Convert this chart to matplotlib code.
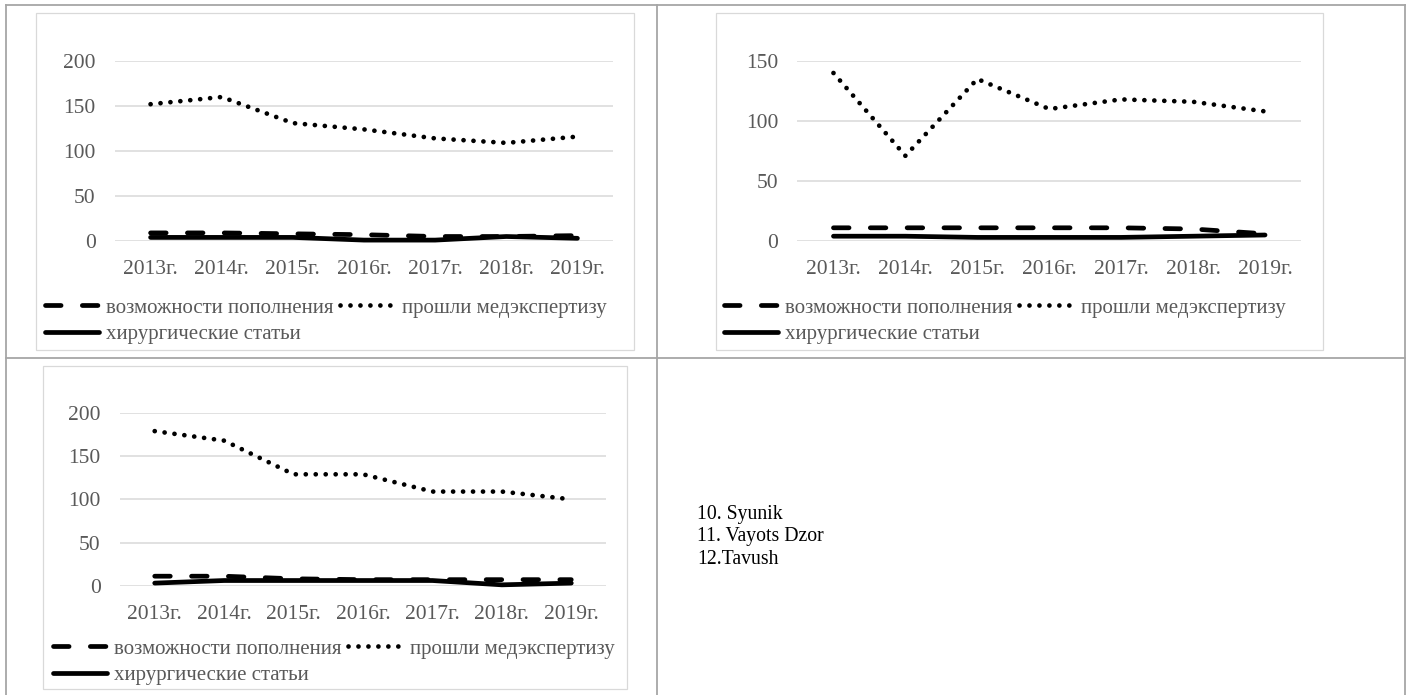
import matplotlib
matplotlib.use("Agg")
import matplotlib.pyplot as plt
from matplotlib.lines import Line2D
from matplotlib.patches import Rectangle

W, H = 1413, 695
DPI = 100

years = ["2013г.", "2014г.", "2015г.", "2016г.", "2017г.", "2018г.", "2019г."]
series_names = ["возможности пополнения", "прошли медэкспертизу", "хирургические статьи"]

# Chart 1
c1_vozm = [9, 9, 8, 7, 5, 5, 6]
c1_med = [152, 160, 131, 124, 114, 109, 116]
c1_hir = [4, 4, 4, 1, 1, 5, 3]
# Chart 2
c2_vozm = [11, 11, 11, 11, 11, 10, 6]
c2_med = [140, 71, 135, 110, 118, 116, 108]
c2_hir = [4, 4, 3, 3, 3, 4, 5]
# Chart 3
c3_vozm = [11, 11, 8, 7, 7, 7, 7]
c3_med = [179, 168, 129, 129, 109, 109, 100]
c3_hir = [3, 6, 6, 6, 6, 1, 3]

c1_ticks = [0, 50, 100, 150, 200]
c2_ticks = [0, 50, 100, 150]
c3_ticks = [0, 50, 100, 150, 200]

region_labels = ["10. Syunik", "11. Vayots Dzor", "12.Tavush"]

FONT = "Liberation Serif"
GRAY = "#595959"
GRID = "#d9d9d9"
TABLE = "#a6a6a6"
FS_TICK = 15.5
FS_LEG = 15
LW = 3.4

fig = plt.figure(figsize=(W / DPI, H / DPI), dpi=DPI)
fig.patch.set_facecolor("white")


def fx(px):
    return px / W


def fy(py):
    return 1 - py / H


def add_hline(x0, x1, y, color=TABLE, lw=1.3):
    fig.add_artist(Line2D([fx(x0), fx(x1)], [fy(y), fy(y)], color=color, lw=lw,
                          transform=fig.transFigure))


def add_vline(x, y0, y1, color=TABLE, lw=1.3):
    fig.add_artist(Line2D([fx(x), fx(x)], [fy(y0), fy(y1)], color=color, lw=lw,
                          transform=fig.transFigure))


# Table lines
add_hline(6, 1405, 4.5)
add_hline(6, 1405, 358)
add_vline(6, 4.5, 700)
add_vline(657, 4.5, 700)
add_vline(1405, 4.5, 700)


def box(x0, y0, x1, y1):
    fig.add_artist(Rectangle((fx(x0), fy(y1)), fx(x1) - fx(x0), fy(y0) - fy(y1),
                             transform=fig.transFigure, fill=False,
                             edgecolor=GRID, lw=0.9))


DASH = (0, (3.3, 4.5))
DOT = (0, (0.01, 2.1))


def chart(rect_px, vozm, med, hir, ticks, legend_xy):
    x0, y0, x1, y1 = rect_px
    ax = fig.add_axes([fx(x0), fy(y1), fx(x1) - fx(x0), fy(y0) - fy(y1)])
    x = list(range(len(years)))
    l1, = ax.plot(x, vozm, color="black", lw=LW, linestyle=DASH,
                  dash_capstyle="round", solid_joinstyle="round", zorder=3)
    l2, = ax.plot(x, med, color="black", lw=LW, linestyle=DOT,
                  dash_capstyle="round", zorder=3)
    l3, = ax.plot(x, hir, color="black", lw=LW, solid_capstyle="round",
                  solid_joinstyle="round", zorder=4)
    ax.set_xlim(-0.5, len(years) - 0.5)
    ax.set_ylim(ticks[0], ticks[-1])
    ax.set_yticks(ticks)
    ax.set_xticks(x)
    ax.set_xticklabels(years)
    for s in ax.spines.values():
        s.set_visible(False)
    ax.grid(axis="y", color=GRID, lw=1.1)
    ax.set_axisbelow(True)
    ax.tick_params(axis="both", length=0, colors=GRAY, labelsize=FS_TICK)
    ax.tick_params(axis="x", pad=14)
    ax.tick_params(axis="y", pad=14)
    for t in ax.get_xticklabels() + ax.get_yticklabels():
        t.set_fontfamily(FONT)
    for l in (l1, l2, l3):
        l.set_clip_on(False)
    leg = fig.legend([l1, l3, l2], [series_names[0], series_names[2], series_names[1]],
                     ncol=2, loc="center left",
                     bbox_to_anchor=(fx(legend_xy[0]), fy(legend_xy[1])),
                     bbox_transform=fig.transFigure,
                     frameon=False, borderpad=0, borderaxespad=0,
                     handlelength=2.6, handletextpad=0.35, columnspacing=0.3,
                     labelspacing=0.32,
                     prop={"family": FONT, "size": FS_LEG})
    for t in leg.get_texts():
        t.set_color(GRAY)
    return ax


# Chart boxes
box(36, 13, 634, 350)
box(716, 13, 1323, 350)
box(43, 366, 627, 689)

chart((115, 61, 613, 241), c1_vozm, c1_med, c1_hir, c1_ticks, (45, 321))
chart((797.5, 61, 1301, 241), c2_vozm, c2_med, c2_hir, c2_ticks, (724, 321))
chart((120, 413, 606, 585.7), c3_vozm, c3_med, c3_hir, c3_ticks, (53, 662))

for i, lab in enumerate(region_labels):
    fig.text(fx(697), fy(515 + 22 * i), lab, fontfamily=FONT, fontsize=14.2,
             color="black", ha="left", va="center")

fig.savefig("out.png", dpi=DPI, facecolor="white")
